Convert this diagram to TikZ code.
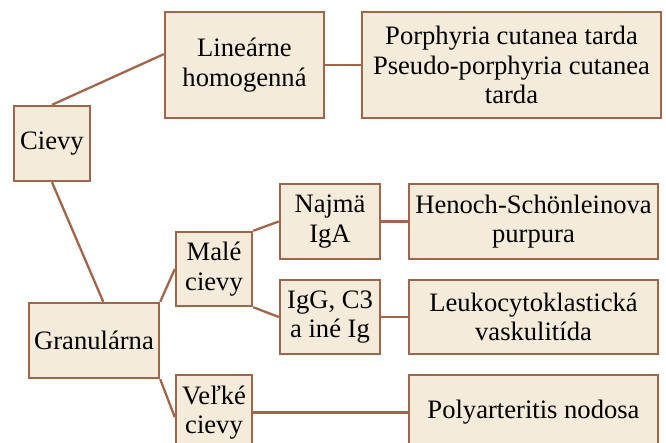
\documentclass[tikz,border=0pt]{standalone}
\usepackage{fontspec}
\setmainfont{Liberation Serif}
\usetikzlibrary{calc}
\definecolor{boxfill}{HTML}{F4EBDA}
\definecolor{boxline}{HTML}{A0654B}
\begin{document}
\begin{tikzpicture}[x=1pt,y=-1pt,
    box/.style={draw=boxline,line width=2.4pt,fill=boxfill,inner sep=0pt,align=center,
      font=\fontsize{26.6}{29.5}\selectfont},
    conn/.style={draw=boxline,line width=2.3pt}]
        \useasboundingbox (0,0) rectangle (666,443);
        \clip (0,0) rectangle (666,443);
        \node[box,minimum width=76pt,minimum height=75pt] (cievy) at (52,143.5) {Cievy};
        \node[box,minimum width=159pt,minimum height=106pt] (linear) at (244.5,65) {Lineárne\\homogenná};
        \node[box,minimum width=299pt,minimum height=106pt] (porph) at (511.5,65)
          {Porphyria cutanea tarda\\Pseudo-porphyria cutanea\\tarda};
        \node[box,minimum width=130pt,minimum height=75pt] (gran) at (94,340.5) {Granulárna};
        \node[box,minimum width=76pt,minimum height=74pt] (male) at (214,269) {Malé\\cievy};
        \node[box,minimum width=76pt,minimum height=75pt] (velke) at (214,412.5) {Veľké\\cievy};
        \node[box,minimum width=100pt,minimum height=75pt] (najma) at (330,221.5) {Najmä\\IgA};
        \node[box,minimum width=100pt,minimum height=74pt] (igg) at (330,317) {IgG, C3\\a iné Ig};
        \node[box,minimum width=249pt,minimum height=75pt] (henoch) at (533.5,221.5) {Henoch-Schönleinova\\purpura};
        \node[box,minimum width=249pt,minimum height=74pt] (leuko) at (533.5,317) {Leukocytoklastická\\vaskulitída};
        \node[box,minimum width=249pt,minimum height=75pt] (poly) at (533.5,412.5) {Polyarteritis nodosa};
        \draw[conn] (cievy.north) -- ($(linear.north west)!0.4!(linear.south west)$);
        \draw[conn] (cievy.south) -- ($(gran.north west)!0.57!(gran.north east)$);
        \draw[conn] (gran.north east) -- (male.west);
        \draw[conn] (gran.south east) -- ($(velke.north west)!0.56!(velke.south west)$);
        \draw[conn] (male.north east) -- (najma.west);
        \draw[conn] (male.south east) -- (igg.west);
        \foreach \a/\b in {linear/porph,najma/henoch,igg/leuko,velke/poly}{\draw[conn] (\a.east) -- (\b.west);}
      \end{tikzpicture}
\end{document}
